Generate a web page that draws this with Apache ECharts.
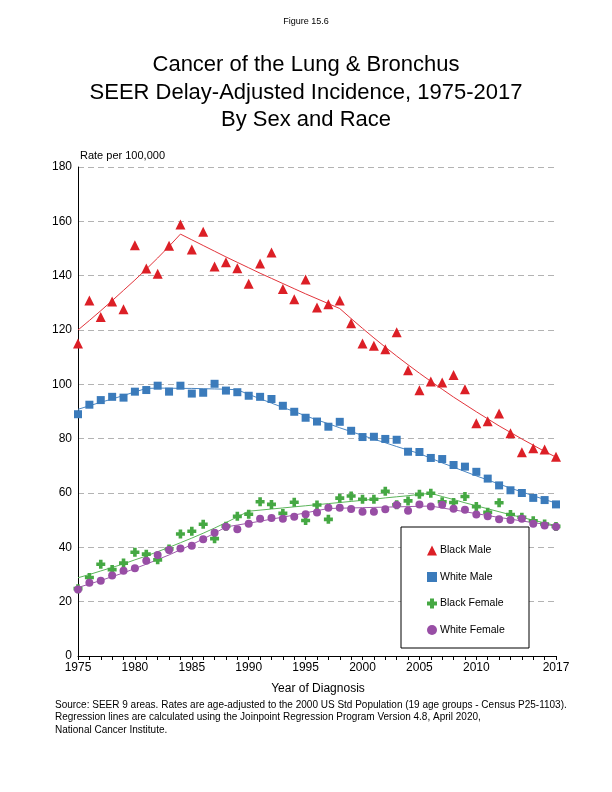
<!DOCTYPE html>
<html>
<head>
<meta charset="utf-8">
<script src="https://cdn.jsdelivr.net/npm/echarts@6/dist/echarts.min.js"></script>
<style>
html,body{margin:0;padding:0;background:#fff;}
#c{width:612px;height:792px;}
</style>
</head>
<body>
<div id="c"></div>
<script>
const years = [];
for (let y = 1975; y <= 2017; y++) years.push(y);

const blackMale = [115.0,130.9,124.8,130.5,127.6,151.2,142.6,140.7,151.0,158.8,
  149.6,156.2,143.4,144.9,142.7,137.0,144.5,148.5,135.1,131.3,
  138.6,128.3,129.5,130.9,122.5,115.0,114.2,112.9,119.2,105.2,
  97.8,101.0,100.7,103.4,98.2,85.7,86.4,89.3,82.0,75.0,
  76.5,76.0,73.3];
const whiteMale = [89.0,92.5,94.2,95.4,95.1,97.3,97.9,99.5,97.3,99.5,
  96.6,96.9,100.2,97.7,97.1,95.8,95.4,94.6,92.1,89.9,
  87.7,86.3,84.4,86.2,82.9,80.6,80.7,79.9,79.6,75.2,
  75.1,72.9,72.5,70.3,69.7,67.8,65.3,62.8,61.0,60.0,
  58.2,57.4,55.8];
const blackFemale = [24.8,28.9,33.8,31.8,34.2,38.2,37.5,35.4,39.4,44.9,
  45.9,48.5,43.2,47.8,51.4,52.2,56.8,55.8,52.5,56.6,
  49.9,55.6,50.3,58.1,58.9,57.7,57.7,60.6,55.7,57.1,
  59.5,59.9,56.8,56.5,58.7,55.0,52.9,56.4,52.1,51.1,
  49.8,48.6,47.7];
const whiteFemale = [24.5,27.0,27.7,29.6,31.4,32.3,35.1,37.2,39.0,39.6,
  40.6,43.0,45.4,47.6,46.7,48.7,50.5,50.8,50.5,51.3,
  52.2,52.8,54.6,54.6,54.1,53.1,53.1,54.0,55.6,53.5,
  55.8,55.0,55.7,54.2,53.8,52.1,51.4,50.3,50.1,50.5,
  48.7,48.0,47.6];

const blackMaleFit = [120.0,123.5,127.1,130.8,134.6,138.4,142.4,146.5,150.8,155.3,
  153.2,151.1,149.0,146.9,144.9,142.9,140.9,139.0,137.1,135.2,
  133.3,131.5,129.7,127.9,124.2,120.6,117.1,113.7,110.4,107.2,
  104.1,101.1,98.2,95.3,92.6,89.9,87.3,84.7,82.3,79.9,
  77.6,75.3,73.2];
const whiteMaleFit = [90.8,92.1,93.4,94.6,95.9,97.2,98.5,98.6,98.6,98.5,
  98.5,98.4,98.3,98.2,98.0,96.3,94.7,93.1,91.5,90.0,
  88.4,86.9,85.5,84.0,82.6,81.2,79.8,78.5,77.1,75.8,
  74.5,72.8,71.1,69.5,67.9,66.3,64.8,63.3,61.8,60.4,
  59.0,57.6,56.3];
const blackFemaleFit = [28.8,30.0,31.3,32.6,33.9,35.4,36.8,38.4,40.0,41.7,
  43.4,45.2,47.1,49.1,51.2,53.3,53.7,54.1,54.5,54.9,
  55.3,55.7,56.1,56.5,56.9,57.3,57.7,58.2,58.6,59.0,
  59.5,59.9,58.7,57.6,56.4,55.3,54.2,53.1,52.0,51.0,
  50.0,49.0,48.0];
const whiteFemaleFit = [25.2,26.5,27.8,29.2,30.6,32.2,33.8,35.5,37.2,39.1,
  41.0,43.1,45.2,47.5,48.2,48.9,49.6,50.4,51.1,51.9,
  52.7,53.5,54.3,54.4,54.5,54.6,54.7,54.8,54.9,55.0,
  55.1,55.2,54.5,53.8,53.1,52.4,51.7,51.0,50.4,49.7,
  49.1,48.5,47.8];

const xLabelYears = [1975,1980,1985,1990,1995,2000,2005,2010,2017];
const titleLines = ['Cancer of the Lung & Bronchus','SEER Delay-Adjusted Incidence, 1975-2017','By Sex and Race'];
const footLines = [
  'Source: SEER 9 areas. Rates are age-adjusted to the 2000 US Std Population (19 age groups - Census P25-1103).',
  'Regression lines are calculated using the Joinpoint Regression Program Version 4.8, April 2020,',
  'National Cancer Institute.'
];

const pair = arr => years.map((y, i) => [y, arr[i]]);
const FONT = 'Liberation Sans, Arial, sans-serif';
const PLUS = 'path://M3,0H7V3H10V7H7V10H3V7H0V3H3Z';

const groups = [
  {name:'Black Male', pts:blackMale, fit:blackMaleFit, color:'#dc1f26', line:'#e2343b', symbol:'triangle', size:10},
  {name:'White Male', pts:whiteMale, fit:whiteMaleFit, color:'#3b7bbb', line:'#4a86c2', symbol:'rect', size:8},
  {name:'Black Female', pts:blackFemale, fit:blackFemaleFit, color:'#45a843', line:'#5bb55a', symbol:PLUS, size:9},
  {name:'White Female', pts:whiteFemale, fit:whiteFemaleFit, color:'#984ea5', line:'#9e5aab', symbol:'circle', size:8}
];

const series = [];
groups.forEach(g => {
  series.push({
    name: g.name + ' fit', type:'line', data: pair(g.fit), showSymbol:false, symbol:'none',
    lineStyle:{color:g.line, width:1}, silent:true, z:2, animation:false
  });
});
groups.forEach((g, i) => {
  series.push({
    name: g.name, type:'scatter', data: pair(g.pts), symbol:g.symbol, symbolSize:g.size,
    itemStyle:{color:g.color, opacity:1}, z:3 + i, animation:false
  });
});

const graphics = [
  {type:'text', x:306, y:22, style:{text:'Figure 15.6', font:'9px '+FONT, fill:'#000', align:'center', verticalAlign:'middle'}},
  {type:'rect', shape:{x:401, y:527, width:128, height:121}, style:{fill:'#fff', stroke:'#000', lineWidth:1}, z:10},
  {type:'text', x:80, y:156, style:{text:'Rate per 100,000', font:'11px '+FONT, fill:'#000', align:'left', verticalAlign:'middle'}},
  {type:'text', x:318, y:689, style:{text:'Year of Diagnosis', font:'12px '+FONT, fill:'#000', align:'center', verticalAlign:'middle'}}
];
titleLines.forEach((t, i) => {
  graphics.push({type:'text', x:306, y:65 + i*27.5, style:{text:t, font:'22px '+FONT, fill:'#000', align:'center', verticalAlign:'middle'}});
});
footLines.forEach((t, i) => {
  graphics.push({type:'text', x:55, y:705 + i*12.5, style:{text:t, font:'10px '+FONT, fill:'#000', align:'left', verticalAlign:'middle'}});
});

const chart = echarts.init(document.getElementById('c'), null, {renderer:'canvas'});
chart.setOption({
  animation:false,
  backgroundColor:'#fff',
  grid:{left:78, right:56, top:167, bottom:136, containLabel:false},
  xAxis:{
    type:'value', min:1975, max:2017, interval:1,
    axisLine:{show:true, lineStyle:{color:'#000', width:1}},
    axisTick:{show:true, length:4, lineStyle:{color:'#000'}},
    splitLine:{show:false},
    axisLabel:{
      show:true, color:'#000', fontSize:12, fontFamily:FONT, margin:6,
      showMinLabel:true, showMaxLabel:true, hideOverlap:false,
      formatter: v => xLabelYears.indexOf(v) >= 0 ? String(v) : ''
    }
  },
  yAxis:{
    type:'value', min:0, max:180, interval:20,
    axisLine:{show:true, lineStyle:{color:'#000', width:1}},
    axisTick:{show:false},
    splitLine:{show:true, lineStyle:{color:'#b3b3b3', type:[6,4], width:1}},
    axisLabel:{color:'#000', fontSize:12, fontFamily:FONT, margin:6}
  },
  legend:{
    data: groups.map(g => g.name),
    orient:'vertical', left:422, top:540, itemGap:15.5,
    itemWidth:10, itemHeight:10,
    textStyle:{color:'#000', fontSize:10.5, fontFamily:FONT, padding:[0,0,0,-2]},
    selectedMode:false, z:11
  },
  graphic: graphics,
  series: series
});
</script>
</body>
</html>
